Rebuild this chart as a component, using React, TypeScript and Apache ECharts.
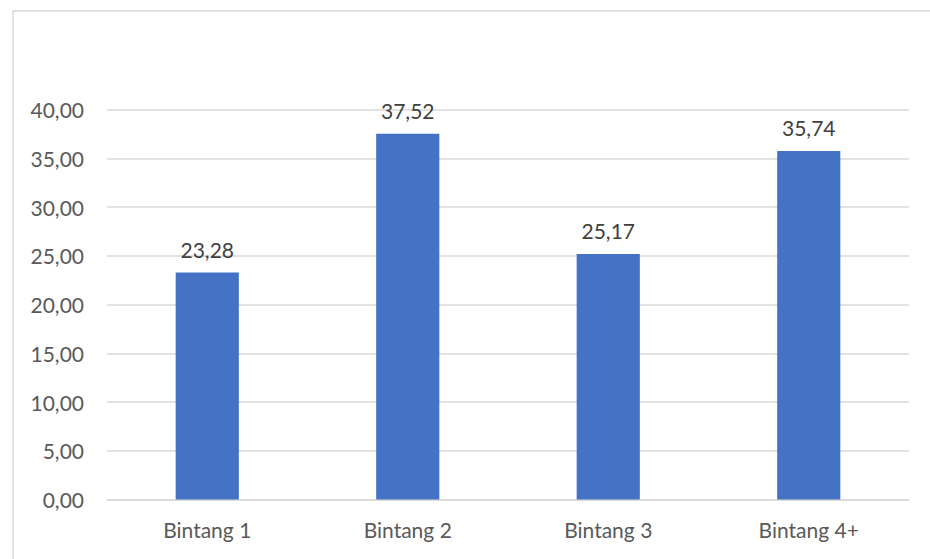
import React, { useEffect, useRef } from "react";
import * as echarts from "echarts";

const categories = ["Bintang 1", "Bintang 2", "Bintang 3", "Bintang 4+"];
const values = [23.28, 37.52, 25.17, 35.74];

const fmt = (v: number) => v.toFixed(2).replace(".", ",");

export default function App() {
  const ref = useRef<HTMLDivElement>(null);
  useEffect(() => {
    const chart = echarts.init(ref.current!, null, { renderer: "svg" });
    const font = "Lato, 'Open Sans', sans-serif";
    chart.setOption({
      animation: false,
      backgroundColor: "#ffffff",
      graphic: [
        {
          type: "rect",
          shape: { x: 13, y: 11, width: 940, height: 560 },
          style: { fill: "none", stroke: "#d9d9d9", lineWidth: 1.5 },
          silent: true,
        },
      ],
      grid: { left: 107, right: 21, top: 109.5, bottom: 59.5, containLabel: false },
      xAxis: {
        type: "category",
        data: categories,
        axisLine: { lineStyle: { color: "#d9d9d9", width: 1.5 } },
        axisTick: { show: false },
        axisLabel: { color: "#595959", fontSize: 21, fontFamily: font, margin: 19 },
      },
      yAxis: {
        type: "value",
        min: 0,
        max: 40,
        interval: 5,
        axisLine: { show: false },
        axisTick: { show: false },
        splitLine: { lineStyle: { color: "#d9d9d9", width: 1.5 } },
        axisLabel: {
          color: "#595959",
          fontSize: 21,
          fontFamily: font,
          margin: 23,
          formatter: (v: number) => fmt(v),
        },
      },
      series: [
        {
          type: "bar",
          data: values,
          barWidth: "31.5%",
          itemStyle: { color: "#4472C4" },
          label: {
            show: true,
            position: "top",
            distance: 13,
            color: "#404040",
            fontSize: 21,
            fontFamily: font,
            formatter: (p: any) => fmt(p.value),
          },
        },
      ],
    });
    return () => chart.dispose();
  }, []);
  return (
    <div
      ref={ref}
      style={{ position: "absolute", left: 0, top: 0, width: 930, height: 559 }}
    />
  );
}
